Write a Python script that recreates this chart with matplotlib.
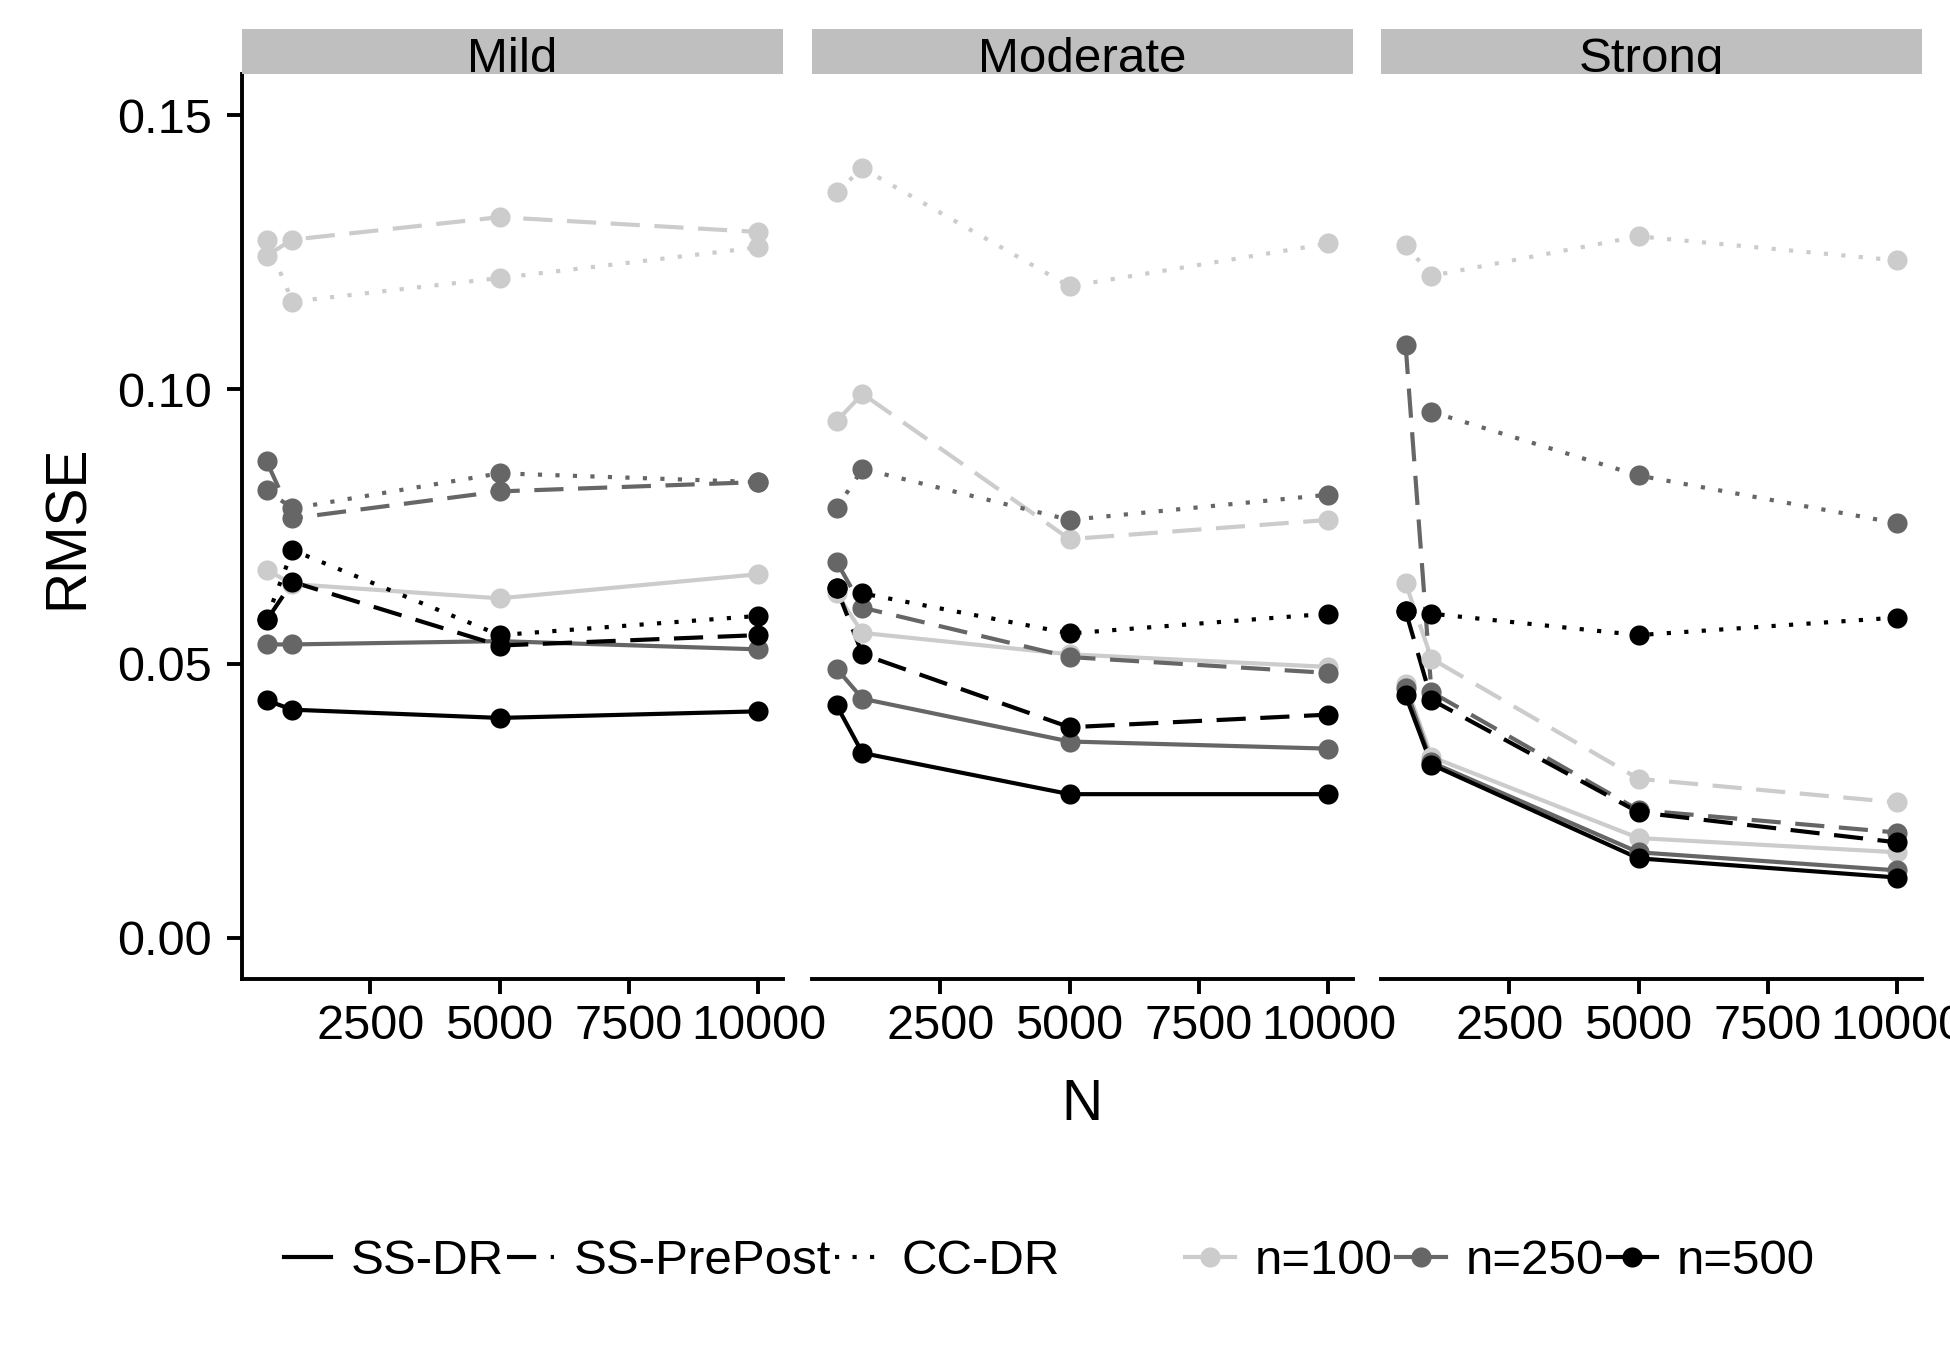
import numpy as np
import matplotlib
matplotlib.use("Agg")
import matplotlib.pyplot as plt
from matplotlib.lines import Line2D
from matplotlib.patches import Rectangle

plt.rcParams['font.family'] = ['Liberation Sans', 'DejaVu Sans']

# ---------------- data ----------------
N = [500, 1000, 5000, 10000]
panels = ["Mild", "Moderate", "Strong"]
methods = ["SS-DR", "SS-PrePost", "CC-DR"]
sample_sizes = ["n=100", "n=250", "n=500"]
x_ticks = [2500, 5000, 7500, 10000]
x_tick_labels = ["2500", "5000", "7500", "10000"]
y_ticks = [0.00, 0.05, 0.10, 0.15]
y_tick_labels = ["0.00", "0.05", "0.10", "0.15"]

# rows: n=100, n=250, n=500 ; columns: N = 500, 1000, 5000, 10000
mild_ss_dr = [[0.0671, 0.0645, 0.0619, 0.0663],
              [0.0535, 0.0535, 0.0541, 0.0526],
              [0.0433, 0.0416, 0.0401, 0.0413]]
mild_ss_prepost = [[0.1244, 0.1273, 0.1314, 0.1287],
                   [0.0869, 0.0765, 0.0814, 0.0831],
                   [0.0579, 0.0649, 0.0533, 0.0552]]
mild_cc_dr = [[0.1273, 0.1160, 0.1203, 0.1259],
              [0.0816, 0.0783, 0.0847, 0.0831],
              [0.0582, 0.0707, 0.0552, 0.0587]]

moderate_ss_dr = [[0.0628, 0.0556, 0.0517, 0.0494],
                  [0.0491, 0.0436, 0.0358, 0.0345],
                  [0.0424, 0.0337, 0.0262, 0.0262]]
moderate_ss_prepost = [[0.0942, 0.0992, 0.0727, 0.0762],
                       [0.0686, 0.0602, 0.0512, 0.0483],
                       [0.0637, 0.0517, 0.0384, 0.0407]]
moderate_cc_dr = [[0.1360, 0.1403, 0.1188, 0.1266],
                  [0.0783, 0.0855, 0.0762, 0.0808],
                  [0.0637, 0.0628, 0.0555, 0.0591]]

strong_ss_dr = [[0.0463, 0.0330, 0.0182, 0.0156],
                [0.0455, 0.0320, 0.0156, 0.0123],
                [0.0442, 0.0316, 0.0145, 0.0110]]
strong_ss_prepost = [[0.0647, 0.0509, 0.0290, 0.0247],
                     [0.1081, 0.0448, 0.0233, 0.0192],
                     [0.0596, 0.0434, 0.0229, 0.0174]]
strong_cc_dr = [[0.1264, 0.1207, 0.1279, 0.1235],
                [np.nan, 0.0959, 0.0843, 0.0756],
                [0.0596, 0.0591, 0.0552, 0.0584]]

data = {
    "Mild": {"SS-DR": mild_ss_dr, "SS-PrePost": mild_ss_prepost, "CC-DR": mild_cc_dr},
    "Moderate": {"SS-DR": moderate_ss_dr, "SS-PrePost": moderate_ss_prepost, "CC-DR": moderate_cc_dr},
    "Strong": {"SS-DR": strong_ss_dr, "SS-PrePost": strong_ss_prepost, "CC-DR": strong_cc_dr},
}

# ---------------- style ----------------
colors = ['#CCCCCC', '#666666', '#000000']
linestyles = {"SS-DR": '-', "SS-PrePost": (0, (7.0, 3.5)), "CC-DR": (0, (1, 3.2))}
LW = 3.0
MS = 14.5
TICK_FS = 35
STRIP_FS = 35.5
TITLE_FS = 41
LEG_FS = 35.5

W, H = 1950, 1349
fig = plt.figure(figsize=(W / 100, H / 100), dpi=100)

lefts = [242, 812, 1381]
pw = 541
p_top, p_bot = 74, 979

for i, name in enumerate(panels):
    ax = fig.add_axes([lefts[i] / W, 1 - p_bot / H, pw / W, (p_bot - p_top) / H])
    for m in methods:
        for k in range(3):
            ax.plot(N, data[name][m][k], color=colors[k], linestyle=linestyles[m],
                    lw=LW, zorder=2)
    for m in methods:
        for k in range(3):
            ax.plot(N, data[name][m][k], linestyle='none', marker='o', ms=MS,
                    color=colors[k], markeredgewidth=0, zorder=3)
    ax.set_xlim(25, 10475)
    ax.set_ylim(-0.0075, 0.1575)
    ax.set_xticks(x_ticks)
    ax.set_xticklabels(x_tick_labels, fontsize=TICK_FS)
    ax.tick_params(axis='x', length=10.8, width=2.8, pad=7, color='black')
    ax.spines['top'].set_visible(False)
    ax.spines['right'].set_visible(False)
    ax.spines['bottom'].set_linewidth(2.8)
    if i == 0:
        ax.set_yticks(y_ticks)
        ax.set_yticklabels(y_tick_labels, fontsize=TICK_FS)
        ax.tick_params(axis='y', length=10.8, width=2.8, pad=11)
        ax.spines['left'].set_linewidth(2.8)
    else:
        ax.spines['left'].set_visible(False)
        ax.set_yticks([])
    # strip
    sh = (p_top - 29) / (p_bot - p_top)
    rect = Rectangle((0, 1.0), 1, sh, transform=ax.transAxes, facecolor='#BFBFBF',
                     edgecolor='none', clip_on=False, zorder=5)
    ax.add_patch(rect)
    t = ax.text(0.5, 1.0 + 2.5 / (p_bot - p_top), name, transform=ax.transAxes,
                ha='center', va='baseline', fontsize=STRIP_FS, zorder=6, clip_on=True)
    t.set_clip_path(rect)

fig.text(68 / W, 1 - 527 / H, "RMSE", rotation=90, ha='center', va='center', fontsize=TITLE_FS)
fig.text(1082 / W, 1 - 1105 / H, "N", ha='center', va='center', fontsize=TITLE_FS)

lt_handles = [Line2D([], [], color='black', lw=LW, linestyle=linestyles[m]) for m in methods]
fig.legend(lt_handles, methods, loc='center', bbox_to_anchor=(672 / W, 1 - 1262 / H),
           ncol=3, frameon=False, fontsize=LEG_FS, handlelength=0.95,
           handletextpad=0.4, columnspacing=0.08, borderpad=0, borderaxespad=0)
col_handles = [Line2D([], [], color=c, lw=LW, marker='o', ms=MS, markeredgewidth=0) for c in colors]
fig.legend(col_handles, sample_sizes, loc='center', bbox_to_anchor=(1500 / W, 1 - 1262 / H),
           ncol=3, frameon=False, fontsize=LEG_FS, handlelength=1.0,
           handletextpad=0.4, columnspacing=0.08, borderpad=0, borderaxespad=0)

fig.savefig("out.png", dpi=100)
